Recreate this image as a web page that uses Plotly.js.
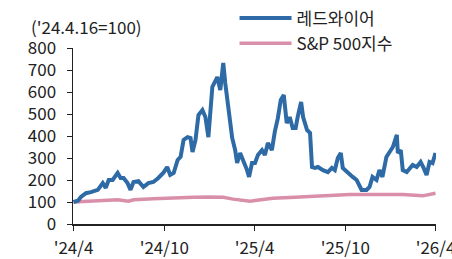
<!DOCTYPE html>
<html>
<head>
<meta charset="utf-8">
<script src="https://cdn.plot.ly/plotly-3.0.1.min.js"></script>
<style>
html,body{margin:0;padding:0;background:#fff;}
#chart{width:452px;height:259px;}
</style>
</head>
<body>
<div id="chart"></div>
<script>
// Redwire (indexed, '24.4.16 = 100)
const rdwDates = [
"2024-04-16","2024-04-25","2024-05-01","2024-05-11","2024-05-21","2024-06-04","2024-06-14","2024-06-20","2024-06-26",
"2024-07-04","2024-07-14","2024-07-20","2024-07-26","2024-08-03","2024-08-09","2024-08-15","2024-08-25","2024-09-04",
"2024-09-14","2024-09-24","2024-10-04","2024-10-14","2024-10-22","2024-10-28","2024-11-04","2024-11-12","2024-11-18",
"2024-11-24","2024-12-02","2024-12-08","2024-12-12","2024-12-18","2024-12-24","2025-01-01","2025-01-07","2025-01-13",
"2025-01-21","2025-01-27","2025-01-31","2025-02-06","2025-02-12","2025-02-16","2025-02-22","2025-03-02","2025-03-08",
"2025-03-12","2025-03-18","2025-03-24","2025-04-01","2025-04-05","2025-04-11","2025-04-17","2025-04-23","2025-05-01",
"2025-05-07","2025-05-13","2025-05-21","2025-05-27","2025-06-02","2025-06-08","2025-06-14","2025-06-20","2025-06-26",
"2025-07-02","2025-07-08","2025-07-12","2025-07-19","2025-07-23","2025-07-31","2025-08-06","2025-08-10","2025-08-16",
"2025-08-22","2025-09-01","2025-09-11","2025-09-19","2025-09-25","2025-10-01","2025-10-07","2025-10-11","2025-10-19",
"2025-10-25","2025-10-31","2025-11-08","2025-11-14","2025-11-18","2025-11-28","2025-12-04","2025-12-10","2025-12-18",
"2025-12-24","2025-12-30","2026-01-07","2026-01-13","2026-01-20","2026-01-28","2026-01-30","2026-02-05","2026-02-09",
"2026-02-17","2026-02-23","2026-03-01","2026-03-09","2026-03-17","2026-03-23","2026-03-29","2026-04-04","2026-04-10",
"2026-04-16"
];
const rdwValues = [
100,106,123,140,145,155,186,164,200,
200,232,209,209,186,155,191,195,168,
186,191,209,232,259,223,232,291,305,
382,395,391,327,382,495,518,486,395,
623,645,668,609,732,641,518,391,336,
277,323,291,245,214,277,277,314,336,
314,368,336,420,480,564,586,459,486,
436,436,486,555,486,427,414,259,255,
259,245,236,255,245,300,323,255,236,
223,214,200,168,155,155,168,214,200,
245,214,305,327,350,405,323,336,245,
236,255,268,259,282,255,223,282,277,
323
];

// S&P 500 (indexed, '24.4.16 = 100)
const spxDates = [
"2024-04-16","2024-06-16","2024-07-14","2024-08-05","2024-08-15","2024-09-24","2024-10-28","2024-12-14","2025-01-17",
"2025-02-12","2025-03-04","2025-04-07","2025-04-21","2025-05-23","2025-06-26","2025-08-12","2025-09-15","2025-10-25",
"2025-12-18","2026-02-09","2026-03-21","2026-04-16"
];
const spxValues = [
100,106,110,104,110,115,119,122,123,
122,113,103,108,117,121,127,130,134,
134,134,128,140
];

const seriesNames = ["레드와이어", "S&P 500지수"];
const tickVals = ["2024-04-16","2024-10-16","2025-04-16","2025-10-16","2026-04-16"];
const tickText = ["'24/4","'24/10","'25/4","'25/10","'26/4"];
const yTicks = [0,100,200,300,400,500,600,700,800];
const unitNote = "('24.4.16=100)";

const FONT = "'Noto Sans CJK KR', 'Noto Sans', sans-serif";

const traces = [
  {x: spxDates, y: spxValues, name: seriesNames[1], type: "scatter", mode: "lines",
   line: {color: "#d98fa9", width: 3.5}, showlegend: true},
  {x: rdwDates, y: rdwValues, name: seriesNames[0], type: "scatter", mode: "lines",
   line: {color: "#2d6aa6", width: 4}, showlegend: true}
];

const layout = {
  width: 452, height: 259,
  margin: {l: 73, r: 16, t: 48, b: 35, autoexpand: false},
  paper_bgcolor: "#fff", plot_bgcolor: "#fff",
  font: {family: FONT, size: 17, color: "#222"},
  showlegend: true,
  legend: {x: 0.445, y: 1.27, xanchor: "left", yanchor: "top", traceorder: "reversed",
           bgcolor: "rgba(0,0,0,0)", font: {family: FONT, size: 17, color: "#222"},
           itemwidth: 52, tracegroupgap: 0},
  xaxis: {type: "date", range: ["2024-04-15", "2026-04-17"], tickmode: "array",
          tickvals: tickVals, ticktext: tickText, showgrid: false, zeroline: false,
          showline: true, linecolor: "#222", linewidth: 1.5, ticks: "outside", ticklen: 5,
          tickcolor: "#222", ticklabeloverflow: "allow", ticklabelstandoff: 3,
          tickfont: {family: FONT, size: 17, color: "#222"}},
  yaxis: {range: [0, 800], tickmode: "array", tickvals: yTicks, showgrid: false, zeroline: false,
          showline: true, linecolor: "#222", linewidth: 1.5, ticks: "outside", ticklen: 5,
          tickcolor: "#222", ticklabelstandoff: 7,
          tickfont: {family: FONT, size: 17, color: "#222"}},
  annotations: [
    {text: unitNote, xref: "paper", yref: "paper", x: -0.12, y: 1.12, xanchor: "left", yanchor: "middle",
     showarrow: false, font: {family: FONT, size: 17, color: "#222"}}
  ]
};

Plotly.newPlot("chart", traces, layout, {staticPlot: true, displayModeBar: false});
</script>
</body>
</html>
